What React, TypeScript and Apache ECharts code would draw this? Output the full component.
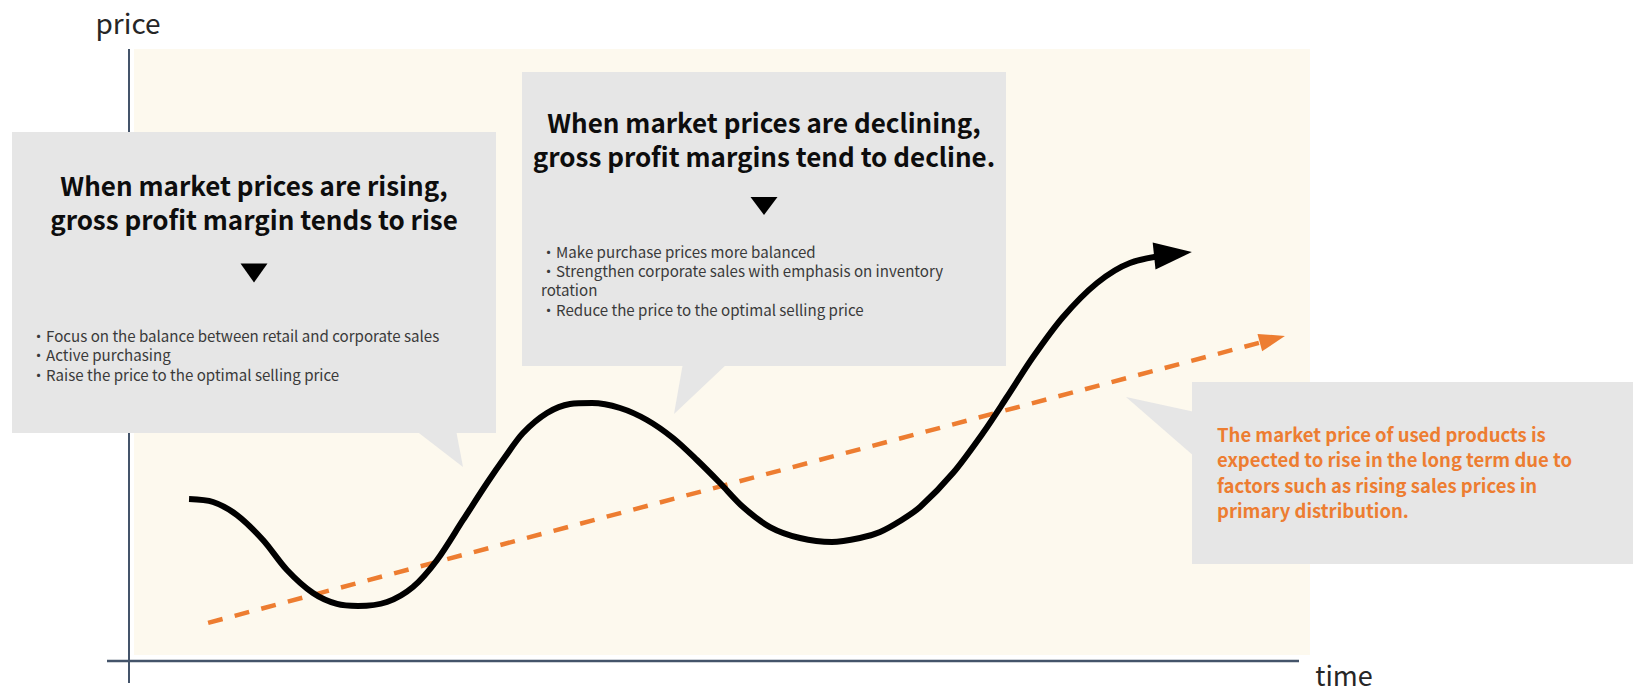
import React, { useEffect, useRef } from "react";
import * as echarts from "echarts";

// ---- data (time 0–100 on x, price 0–100 on y) ----
const curveTime = [4.68, 6.72, 8.76, 10.97, 13.01, 15.22, 17.26, 19.05, 21.51, 23.72, 25.77, 27.98, 30.02, 31.55, 33.08, 35.12, 37.07, 38.95, 41.33, 43.62, 45.83, 47.87, 49.83, 51.79, 54.08, 56.63, 59.35, 61.73, 63.44, 65.14, 66.84, 69.64, 72.19, 74.23, 76.45, 79.0, 81.89, 84.69, 88.35];
const curvePrice = [25.74, 25.25, 23.1, 18.98, 14.03, 10.23, 8.42, 8.09, 8.75, 11.22, 15.68, 22.28, 28.38, 32.67, 36.63, 39.93, 41.42, 41.58, 40.76, 38.78, 35.81, 32.18, 28.38, 24.42, 21.12, 19.31, 18.65, 19.31, 20.3, 22.11, 24.42, 30.03, 36.63, 42.57, 49.17, 55.78, 61.39, 64.69, 66.17];
const trendTime = [6.3, 96.8];
const trendPrice = [5.3, 52.1];

const axisNames = ["price", "time"];
const risingTitle = ["When market prices are rising,", "gross profit margin tends to rise"];
const risingPoints = ["・Focus on the balance between retail and corporate sales", "・Active purchasing", "・Raise the price to the optimal selling price"];
const decliningTitle = ["When market prices are declining,", "gross profit margins tend to decline."];
const decliningPoints = ["・Make purchase prices more balanced", "・Strengthen corporate sales with emphasis on inventory", "rotation", "・Reduce the price to the optimal selling price"];
const trendNote = ["The market price of used products is", "expected to rise in the long term due to", "factors such as rising sales prices in", "primary distribution."];

const FONT = '"Noto Sans CJK JP", "Noto Sans", sans-serif';
const ORANGE = "#ED7D31";
const BOX = "#E6E6E6";
const AXIS = "#44546A";

function txt(text: string, x: number, y: number, size: number, weight: string, fill: string, align = "left") {
  return {
    type: "text",
    x,
    y,
    z: 110,
    silent: true,
    style: {
      text,
      fill,
      font: `${weight} ${size}px ${FONT}`,
      textAlign: align,
      textVerticalAlign: "middle",
    },
  };
}

export default function App() {
  const ref = useRef<HTMLDivElement>(null);
  useEffect(() => {
    if (!ref.current) return;
    const chart = echarts.init(ref.current, null, { renderer: "svg" });
    const last = curveTime.length - 1;
    const curveData = curveTime.map((t, i) =>
      i === last
        ? { value: [t, curvePrice[i]], symbol: "triangle", symbolSize: [27, 38], symbolRotate: -84 }
        : { value: [t, curvePrice[i]], symbol: "none" }
    );
    const trendData = trendTime.map((t, i) =>
      i === trendTime.length - 1
        ? { value: [t, trendPrice[i]], symbol: "triangle", symbolSize: [18, 26], symbolRotate: -75 }
        : { value: [t, trendPrice[i]], symbol: "none" }
    );

    const graphic: any[] = [
      // axes
      { type: "line", z: 5, silent: true, shape: { x1: 129, y1: 49, x2: 129, y2: 683 }, style: { stroke: AXIS, lineWidth: 2 } },
      { type: "line", z: 5, silent: true, shape: { x1: 107, y1: 661, x2: 1299, y2: 661 }, style: { stroke: AXIS, lineWidth: 2.5 } },
      txt(axisNames[0], 128, 22, 28, "normal", "#262626", "center"),
      txt(axisNames[1], 1344, 674, 27, "normal", "#262626", "center"),
      // box 1
      { type: "rect", z: 100, silent: true, shape: { x: 12, y: 132, width: 484, height: 301 }, style: { fill: BOX } },
      { type: "polygon", z: 100, silent: true, shape: { points: [[415, 430], [456, 430], [463, 467]] }, style: { fill: BOX } },
      { type: "polygon", z: 110, silent: true, shape: { points: [[240.5, 263.5], [267.5, 263.5], [254, 282.5]] }, style: { fill: "#000" } },
      // box 2
      { type: "rect", z: 100, silent: true, shape: { x: 522, y: 72, width: 484, height: 294 }, style: { fill: BOX } },
      { type: "polygon", z: 100, silent: true, shape: { points: [[683, 363], [728, 363], [674, 414]] }, style: { fill: BOX } },
      { type: "polygon", z: 110, silent: true, shape: { points: [[750.5, 197], [777.5, 197], [764, 215]] }, style: { fill: "#000" } },
      // box 3
      { type: "rect", z: 100, silent: true, shape: { x: 1192, y: 382, width: 441, height: 182 }, style: { fill: BOX } },
      { type: "polygon", z: 100, silent: true, shape: { points: [[1195, 412], [1195, 457], [1126, 397]] }, style: { fill: BOX } },
    ];
    risingTitle.forEach((s, i) => graphic.push(txt(s, 254, 184.5 + i * 34, 26, "bold", "#0D0D0D", "center")));
    risingPoints.forEach((s, i) => graphic.push(txt(s, 31, 334.5 + i * 19.5, 15.1, "normal", "#3A3A3A")));
    decliningTitle.forEach((s, i) => graphic.push(txt(s, 764, 121 + i * 34, 26, "bold", "#0D0D0D", "center")));
    decliningPoints.forEach((s, i) => graphic.push(txt(s, 541, 250.5 + i * 19.4, 15.1, "normal", "#3A3A3A")));
    trendNote.forEach((s, i) => graphic.push(txt(s, 1217, 434 + i * 25.3, 18.5, "bold", ORANGE)));

    chart.setOption({
      animation: false,
      grid: { left: 134, top: 49, width: 1176, height: 606, show: true, backgroundColor: "#FDF9EE", borderWidth: 0 },
      xAxis: { type: "value", min: 0, max: 100, show: false },
      yAxis: { type: "value", min: 0, max: 100, show: false },
      series: [
        {
          type: "line",
          silent: true,
          data: trendData,
          showSymbol: true,
          lineStyle: { color: ORANGE, width: 4.5, type: [15, 12.5], cap: "butt" },
          itemStyle: { color: ORANGE, borderWidth: 0 },
          z: 3,
        },
        {
          type: "line",
          silent: true,
          data: curveData,
          smooth: 0.3,
          showSymbol: true,
          lineStyle: { color: "#000", width: 6, cap: "butt", join: "round" },
          itemStyle: { color: "#000", borderWidth: 0 },
          z: 4,
        },
      ],
      graphic,
    });
    return () => chart.dispose();
  }, []);
  return <div ref={ref} style={{ position: "absolute", left: 0, top: 0, width: 1633, height: 692 }} />;
}
